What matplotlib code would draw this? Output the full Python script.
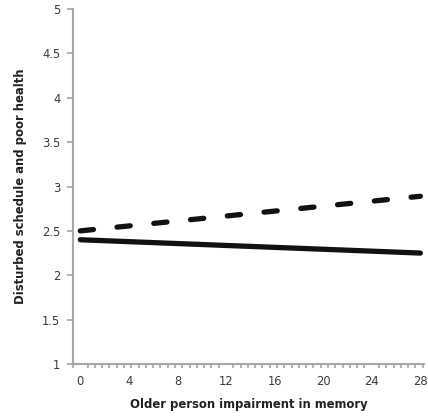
import matplotlib
matplotlib.use("Agg")
import matplotlib.pyplot as plt
import numpy as np

impairment = [0, 28]
solid_line = [2.40, 2.25]
dashed_line = [2.50, 2.89]

y_ticks = [1, 1.5, 2, 2.5, 3, 3.5, 4, 4.5, 5]
x_ticks = [0, 4, 8, 12, 16, 20, 24, 28]

plt.rcParams["font.family"] = ["DejaVu Sans"]

fig = plt.figure(figsize=(4.28, 4.16), dpi=100)
ax = fig.add_axes([73 / 428, 1 - 364 / 416, (424 - 73) / 428, (364 - 9) / 416])

ax.plot(impairment, solid_line, color="#111111", lw=3.8, solid_capstyle="round")
ax.plot(impairment, dashed_line, color="#111111", lw=3.8, dashes=(2.5, 4.5),
        dash_capstyle="round")

ax.set_xlim(-0.6, 28.3)
ax.set_ylim(1, 5)
ax.set_yticks(y_ticks)
ax.set_yticklabels([f"{v:g}" for v in y_ticks])
ax.set_xticks(x_ticks)
ax.set_xticks(np.arange(-0.6, 28.4, 0.6), minor=True)

grey = "#a6a6a6"
for side in ["top", "right"]:
    ax.spines[side].set_visible(False)
for side in ["left", "bottom"]:
    ax.spines[side].set_color(grey)
    ax.spines[side].set_linewidth(1.5)

ax.tick_params(axis="y", direction="out", length=4, width=1.2, color=grey,
               labelsize=8.3, labelcolor="#3a3a3a", pad=5)
ax.tick_params(axis="x", which="major", length=0, labelsize=8.3,
               labelcolor="#3a3a3a", pad=8)
ax.tick_params(axis="x", which="minor", direction="out", length=3, width=1.2, color=grey)

ax.set_xlabel("Older person impairment in memory", fontsize=8.4, fontweight="bold",
              color="#222222", labelpad=7)
ax.set_ylabel("Disturbed schedule and poor health", fontsize=8.4, fontweight="bold",
              color="#222222", labelpad=11)

fig.savefig("out.png", dpi=100)
